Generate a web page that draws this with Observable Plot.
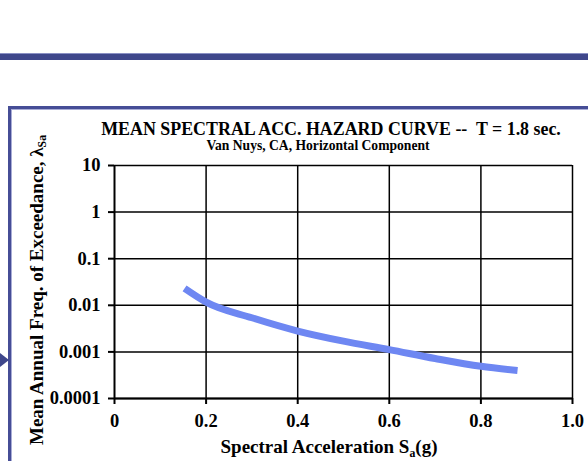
<!DOCTYPE html>
<html>
<head>
<meta charset="utf-8">
<script src="https://cdn.jsdelivr.net/npm/d3@7"></script>
<script src="https://cdn.jsdelivr.net/npm/@observablehq/plot@0.6"></script>
<style>
  html, body { margin: 0; padding: 0; background: #fff; }
  #page { position: relative; width: 588px; height: 461px; overflow: hidden; background: #fff;
          font-family: "Liberation Serif", "Times New Roman", serif; font-weight: bold; color: #000; }
  #band { position: absolute; left: 0; top: 53px; width: 588px; height: 7px; background: #3f478b;
          border-top: 1px solid #8a90c4; box-sizing: border-box; }
  #panel { position: absolute; left: 8px; top: 106px; width: 600px; height: 400px;
           border-top: 3px solid #464d96; border-left: 3px solid #464d96; box-sizing: border-box; }
  #panel::after { content: ""; position: absolute; left: 0; top: 0; right: 0; bottom: 0;
                  border-top: 1px solid #a9add6; border-left: 1px solid #a9add6; }
  #arrow { position: absolute; left: 0; top: 353px; width: 0; height: 0;
           border-top: 7px solid transparent; border-bottom: 7px solid transparent; border-left: 9px solid #3f478b; }
  #chart { position: absolute; left: 0; top: 0; }
  .t { position: absolute; white-space: pre; transform: translateX(-50%); line-height: 1; }
  #title { left: 331px; top: 121px; font-size: 17.9px; }
  #subtitle { left: 318px; top: 139px; font-size: 13.6px; }
  #xlabel { left: 329px; top: 437px; font-size: 19px; }
  #ylabel { position: absolute; left: 36px; top: 290px; white-space: pre; font-size: 19px; line-height: 1;
            transform: translate(-50%, -50%) rotate(-90deg); }
  sub { font-size: 0.62em; vertical-align: -0.3em; line-height: 0; }
</style>
</head>
<body>
<div id="page">
  <div id="band"></div>
  <div id="panel"></div>
  <div id="arrow"></div>
  <div id="chart"></div>
  <div class="t" id="title">MEAN SPECTRAL ACC. HAZARD CURVE --  T = 1.8 sec.</div>
  <div class="t" id="subtitle">Van Nuys, CA, Horizontal Component</div>
  <div class="t" id="xlabel">Spectral Acceleration S<sub>a</sub>(g)</div>
  <div id="ylabel">Mean Annual Freq. of Exceedance, λ<sub>Sa</sub></div>
</div>
<script>
// Spectral acceleration (g) and mean annual frequency of exceedance
const sa = [0.153, 0.2, 0.3, 0.4, 0.5, 0.6, 0.7, 0.8, 0.88];
const lambda = [0.023, 0.0117, 0.0054, 0.0028, 0.0017, 0.00112, 0.00072, 0.00049, 0.00040];

// Axis ticks and their labels
const xTicks = [0, 0.2, 0.4, 0.6, 0.8, 1.0];
const xTickLabels = ["0", "0.2", "0.4", "0.6", "0.8", "1.0"];
const yTicks = [10, 1, 0.1, 0.01, 0.001, 0.0001];
const yTickLabels = ["10", "1", "0.1", "0.01", "0.001", "0.0001"];

const curve = sa.map((x, i) => ({x, y: lambda[i]}));
const xFmt = d => xTickLabels[xTicks.indexOf(d)];
const yFmt = d => yTickLabels[yTicks.indexOf(d)];

const chart = Plot.plot({
  width: 588,
  height: 461,
  marginLeft: 114,
  marginRight: 16,
  marginTop: 165,
  marginBottom: 63,
  x: {domain: [0, 1]},
  y: {type: "log", domain: [0.0001, 10]},
  style: {background: "transparent", fontFamily: "'Liberation Serif', 'Times New Roman', serif",
          fontWeight: "bold", fontSize: "18px", color: "#000"},
  marks: [
    Plot.gridY(yTicks, {stroke: "#000", strokeOpacity: 1, strokeWidth: 1.5}),
    Plot.gridX(xTicks.slice(1), {stroke: "#000", strokeOpacity: 1, strokeWidth: 1.5}),
    Plot.ruleX([0], {stroke: "#000", strokeWidth: 2}),
    Plot.ruleY([0.0001], {stroke: "#000", strokeWidth: 2}),
    Plot.axisY(yTicks, {tickFormat: yFmt, tickSize: 6, tickPadding: 8, label: null, strokeWidth: 2,
                        fontSize: 18.5, fontWeight: "bold"}),
    Plot.axisX(xTicks, {tickFormat: xFmt, tickSize: 6, tickPadding: 9, label: null, strokeWidth: 2,
                        fontSize: 18.5, fontWeight: "bold"}),
    Plot.line(curve, {x: "x", y: "y", curve: "monotone-x", stroke: "#6e87f2",
                      strokeWidth: 7, strokeLinecap: "butt", strokeLinejoin: "round"})
  ]
});
document.getElementById("chart").appendChild(chart);
</script>
</body>
</html>
